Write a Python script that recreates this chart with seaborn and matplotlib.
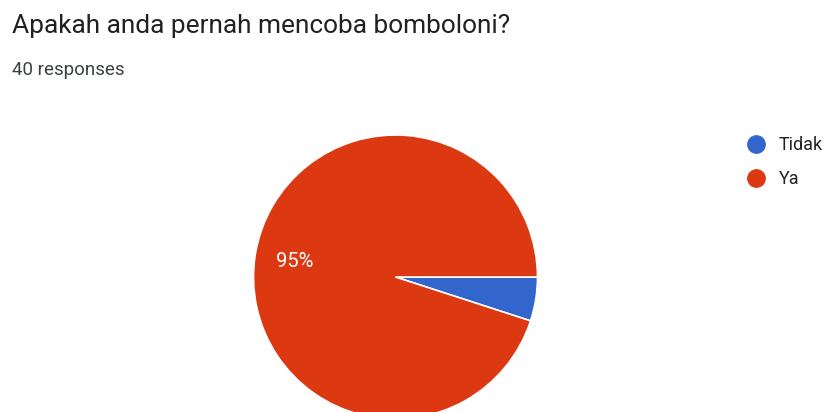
import matplotlib
matplotlib.use("Agg")
import matplotlib.pyplot as plt
from matplotlib.lines import Line2D
import seaborn as sns

categories = ["Tidak", "Ya"]
counts = [2, 38]
colors = ["#3366CC", "#DC3912"]
title = "Apakah anda pernah mencoba bomboloni?"
subtitle = "40 responses"

sns.set_theme(style="white")
plt.rcParams['font.family'] = ['Roboto', 'DejaVu Sans']

W, H = 823, 412
fig = plt.figure(figsize=(W / 100, H / 100), dpi=100)
fig.patch.set_facecolor("white")

cx, cy, r = 395.5, 277, 142
ax = fig.add_axes([(cx - r) / W, (H - cy - r) / H, 2 * r / W, 2 * r / H])
wedges, texts, autotexts = ax.pie(
    counts, colors=colors, startangle=0, counterclock=False, radius=1,
    autopct=lambda p: f"{p:.0f}%" if p > 10 else "", pctdistance=0.72,
    wedgeprops=dict(edgecolor="white", linewidth=1.2),
    textprops=dict(color="white", fontsize=14.5),
)
ax.set_xlim(-1.0, 1.0)
ax.set_ylim(-1.0, 1.0)
ax.set_aspect("equal")
ax.axis("off")

fig.text(12 / W, 1 - 33 / H, title, fontsize=18.9, color="#202124", va="baseline", ha="left")
fig.text(12 / W, 1 - 75 / H, subtitle, fontsize=13.5, color="#3c4043", va="baseline", ha="left")

handles = [Line2D([0], [0], marker="o", linestyle="", markersize=12.5,
                  markerfacecolor=c, markeredgecolor=c) for c in colors]
fig.legend(handles, categories, loc="upper left", bbox_to_anchor=(748.8 / W, 1 - 136.5 / H),
           frameon=False, fontsize=13, handlelength=0.8, handletextpad=0.87,
           labelspacing=0.85, borderaxespad=0, borderpad=0, labelcolor="#222222")

fig.savefig("out.png", dpi=100, facecolor="white")
